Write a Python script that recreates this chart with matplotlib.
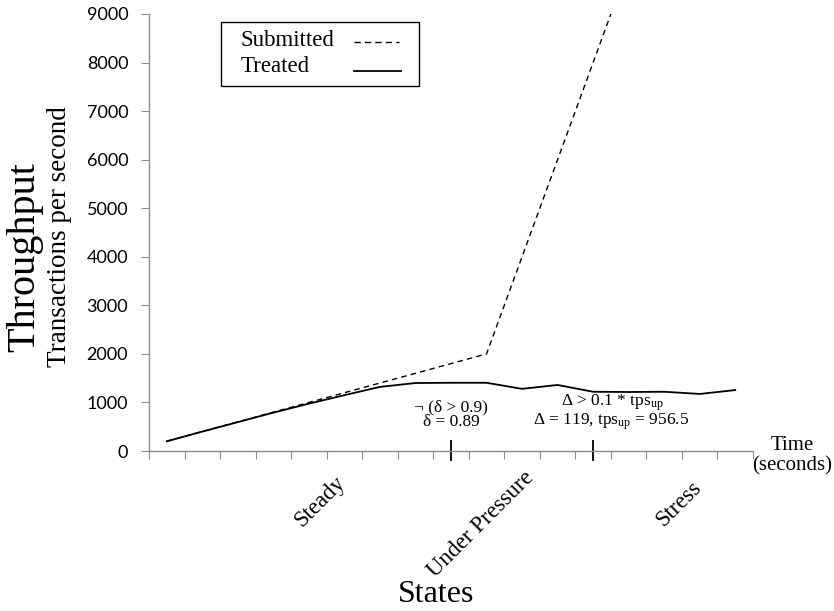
import matplotlib
matplotlib.use("Agg")
import matplotlib.pyplot as plt
from matplotlib.patches import Rectangle
from matplotlib.lines import Line2D
import numpy as np

# dados (uma categoria por intervalo de tempo)
submitted = [200, 400, 600, 800, 1000, 1200, 1400, 1600, 1800, 2000,
             4000, 6000, 8000, 10000, 12000, 14000, 16000]
treated = [200, 400, 595, 790, 975, 1150, 1320, 1400, 1405, 1405,
           1280, 1360, 1220, 1215, 1220, 1175, 1255]
yticks = [0, 1000, 2000, 3000, 4000, 5000, 6000, 7000, 8000, 9000]
states = ["Steady", "Under Pressure", "Stress"]
transitions = [8, 12]

serif = "Liberation Serif"
plt.rcParams["font.family"] = serif
plt.rcParams["mathtext.fontset"] = "custom"
plt.rcParams["mathtext.rm"] = serif
plt.rcParams["mathtext.it"] = serif + ":italic"

W, H = 834, 611
fig = plt.figure(figsize=(W / 100, H / 100), dpi=100)
ax = fig.add_axes([149 / W, (H - 451) / H, 604 / W, 437 / H])

dash = (0, (4, 3))
x = np.arange(len(treated))
ax.plot(x, submitted, color="black", lw=1.0, ls=dash)
ax.plot(x, treated, color="black", lw=1.3)

ax.set_xlim(-0.5, len(treated) - 0.5)
ax.set_ylim(0, 9000)

# eixos estilo excel
gray = "#8c8c8c"
for s in ["top", "right"]:
    ax.spines[s].set_visible(False)
for s in ["left", "bottom"]:
    ax.spines[s].set_color(gray)
    ax.spines[s].set_linewidth(1.0)

ax.set_yticks(yticks)
ax.set_yticklabels([str(v) for v in yticks], fontfamily="Lato", fontsize=13)
ax.tick_params(axis="y", direction="out", length=6, color=gray, pad=9)
ax.set_xticks(np.arange(-0.5, len(treated), 1.0))
ax.set_xticklabels([])
ax.tick_params(axis="x", direction="out", length=6, color=gray)

# marcas de transição de estado
ax.vlines(transitions, -0.024, 0.025, transform=ax.get_xaxis_transform(),
          color="black", lw=1.3, clip_on=False)

# anotações
ax.text(8, 900, "¬ (δ > 0.9)", ha="center", va="center", fontsize=12.5)
ax.text(8, 600, "δ = 0.89", ha="center", va="center", fontsize=12.5)
ax.text(12.55, 990, r"Δ > 0.1 * tps$_{\mathrm{up}}$", ha="center", va="center", fontsize=12.5)
ax.text(12.52, 600, r"Δ = 119, tps$_{\mathrm{up}}$ = 956.5", ha="center", va="center", fontsize=12.5)

# rótulos dos estados
state_x = [4.32, 8.83, 14.41]
state_y = [-0.115, -0.167, -0.12]
for name, sx, sy in zip(states, state_x, state_y):
    ax.text(sx, sy, name, rotation=45, ha="center", va="center", fontsize=16.5,
            transform=ax.get_xaxis_transform())

fig.text(436 / W, 1 - 595 / H, "States", ha="center", va="center", fontsize=23)
fig.text(792 / W, 1 - 445 / H, "Time", ha="center", va="center", fontsize=15)
fig.text(792 / W, 1 - 466 / H, "(seconds)", ha="center", va="center", fontsize=15)
fig.text(25 / W, 1 - 257 / H, "Throughput", rotation=90, ha="center", va="center", fontsize=29)
fig.text(60 / W, 1 - 237 / H, "Transactions per second", rotation=90,
         ha="center", va="center", fontsize=19.5)

# legenda manual: texto à esquerda, linha à direita
fig.patches.append(Rectangle((221 / W, 1 - 86 / H), 198 / W, 64 / H,
                             transform=fig.transFigure, fill=False,
                             edgecolor="black", lw=1.0))
fig.text(241 / W, 1 - 40 / H, "Submitted", ha="left", va="center", fontsize=16.5)
fig.text(241 / W, 1 - 66 / H, "Treated", ha="left", va="center", fontsize=16.5)
fig.add_artist(Line2D([354 / W, 399 / W], [1 - 42 / H, 1 - 42 / H],
                      transform=fig.transFigure, color="black", lw=1.0,
                      ls=(0, (4.5, 3))))
fig.add_artist(Line2D([354 / W, 401 / W], [1 - 71 / H, 1 - 71 / H],
                      transform=fig.transFigure, color="black", lw=1.3))

fig.savefig("out.png", dpi=100)
